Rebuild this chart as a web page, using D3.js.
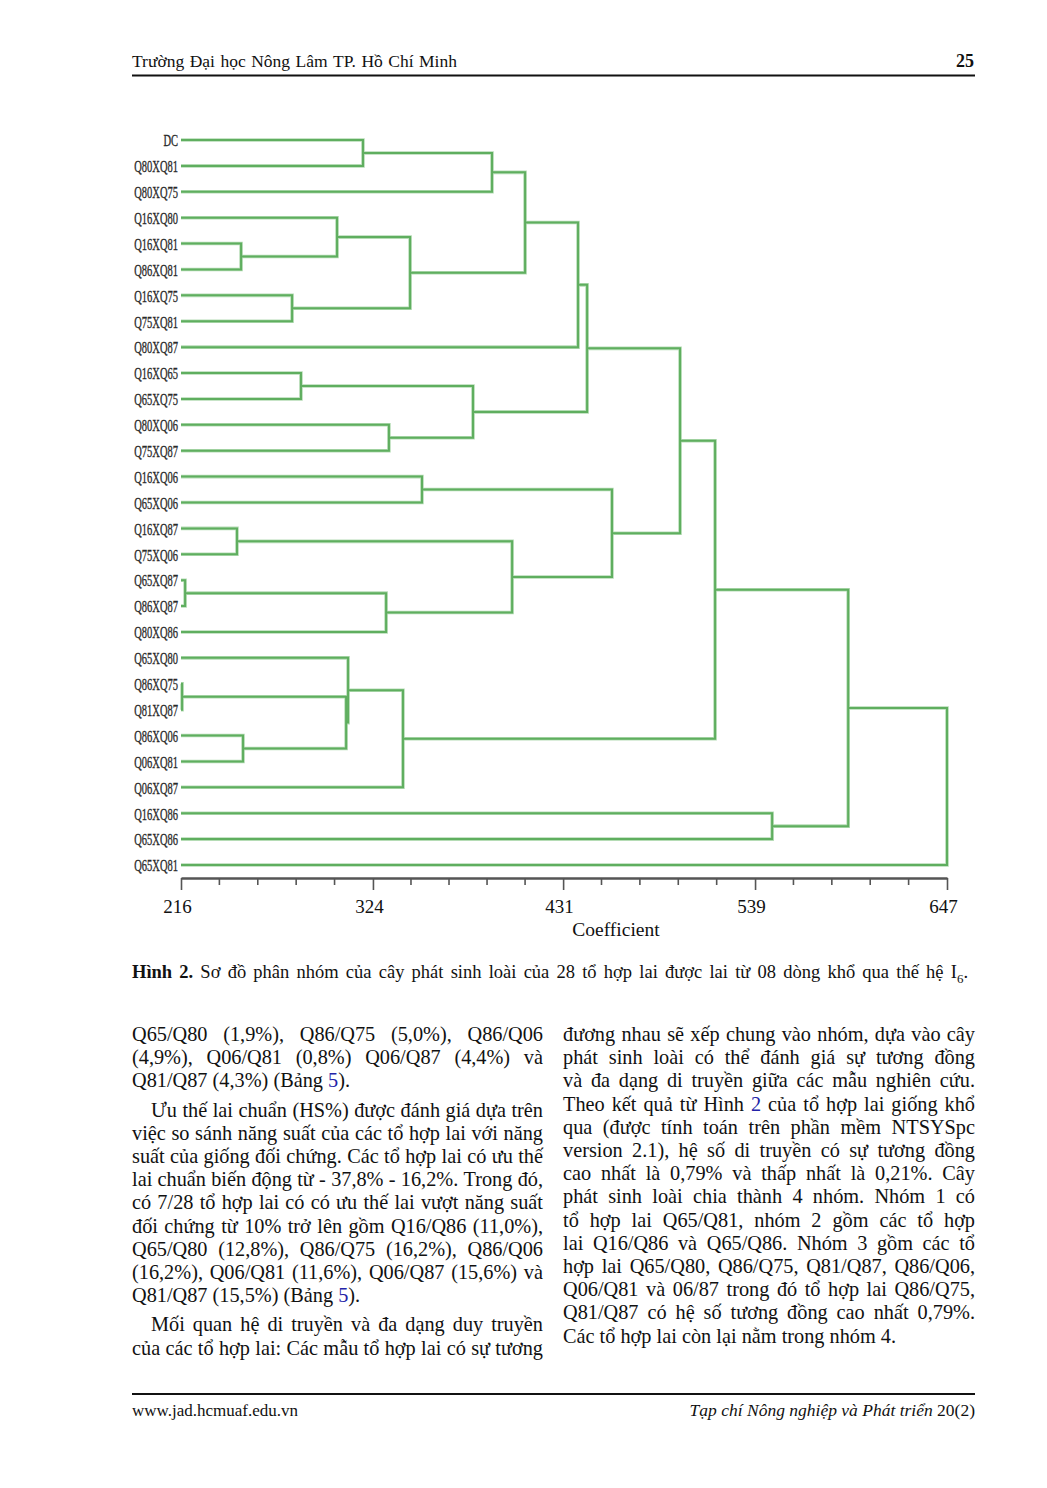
<!DOCTYPE html>
<html><head><meta charset="utf-8">
<script src="https://cdn.jsdelivr.net/npm/d3@7"></script>
<style>body{margin:0;background:#fff}svg{display:block}</style>
</head><body>
<script>
// ---------- DATA ----------
const leaves = ["DC","Q80XQ81","Q80XQ75","Q16XQ80","Q16XQ81","Q86XQ81","Q16XQ75","Q75XQ81","Q80XQ87",
  "Q16XQ65","Q65XQ75","Q80XQ06","Q75XQ87","Q16XQ06","Q65XQ06","Q16XQ87","Q75XQ06","Q65XQ87","Q86XQ87",
  "Q80XQ86","Q65XQ80","Q86XQ75","Q81XQ87","Q86XQ06","Q06XQ81","Q06XQ87","Q16XQ86","Q65XQ86","Q65XQ81"];
// merges: [left child, right child, coefficient]; numbers refer to earlier merges
const mergeLeft  = ["DC",0,"Q16XQ81","Q16XQ80","Q16XQ75",3,1,6,"Q16XQ65","Q80XQ06",8,7,"Q16XQ06","Q16XQ87","Q65XQ87",14,13,12,11,"Q86XQ75","Q86XQ06",19,"Q65XQ80",22,18,"Q16XQ86",24,26];
const mergeRight = ["Q80XQ81","Q80XQ75","Q86XQ81",2,"Q75XQ81",4,5,"Q80XQ87","Q65XQ75","Q75XQ87",9,10,"Q65XQ06","Q75XQ06","Q86XQ87","Q80XQ86",15,16,17,"Q81XQ87","Q06XQ81",20,21,"Q06XQ87",23,"Q65XQ86",25,"Q65XQ81"];
const mergeHeight = [318.4,391.0,249.8,303.8,278.5,344.9,409.6,439.4,283.5,333.0,380.3,444.5,351.6,247.5,218.3,331.4,402.3,458.5,496.8,216.6,250.9,308.9,310.0,340.9,516.5,548.6,591.4,647.0];
const axisDomain = [216, 647];
const tickValues = [216, 324, 431, 539, 647];
const tickLabels = ["216","324","431","539","647"];
const axisTitle = "Coefficient";

const headerLeft = "Trường Đại học Nông Lâm TP. Hồ Chí Minh";
const pageNumber = "25";
const caption = "*Hình* *2.* Sơ đồ phân nhóm của cây phát sinh loài của 28 tổ hợp lai được lai từ 08 dòng khổ qua thế hệ I~6~.";
const leftPara1 = [
  "Q65/Q80 (1,9%), Q86/Q75 (5,0%), Q86/Q06",
  "(4,9%), Q06/Q81 (0,8%) Q06/Q87 (4,4%) và",
  "Q81/Q87 (4,3%) (Bảng {5})."];
const leftPara2 = [
  "Ưu thế lai chuẩn (HS%) được đánh giá dựa trên",
  "việc so sánh năng suất của các tổ hợp lai với năng",
  "suất của giống đối chứng. Các tổ hợp lai có ưu thế",
  "lai chuẩn biến động từ - 37,8% - 16,2%. Trong đó,",
  "có 7/28 tổ hợp lai có có ưu thế lai vượt năng suất",
  "đối chứng từ 10% trở lên gồm Q16/Q86 (11,0%),",
  "Q65/Q80 (12,8%), Q86/Q75 (16,2%), Q86/Q06",
  "(16,2%), Q06/Q81 (11,6%), Q06/Q87 (15,6%) và",
  "Q81/Q87 (15,5%) (Bảng {5})."];
const leftPara3 = [
  "Mối quan hệ di truyền và đa dạng duy truyền",
  "của các tổ hợp lai: Các mẫu tổ hợp lai có sự tương"];
const rightPara = [
  "đương nhau sẽ xếp chung vào nhóm, dựa vào cây",
  "phát sinh loài có thể đánh giá sự tương đồng",
  "và đa dạng di truyền giữa các mẫu nghiên cứu.",
  "Theo kết quả từ Hình {2} của tổ hợp lai giống khổ",
  "qua (được tính toán trên phần mềm NTSYSpc",
  "version 2.1), hệ số di truyền có sự tương đồng",
  "cao nhất là 0,79% và thấp nhất là 0,21%. Cây",
  "phát sinh loài chia thành 4 nhóm. Nhóm 1 có",
  "tổ hợp lai Q65/Q81, nhóm 2 gồm các tổ hợp",
  "lai Q16/Q86 và Q65/Q86. Nhóm 3 gồm các tổ",
  "hợp lai Q65/Q80, Q86/Q75, Q81/Q87, Q86/Q06,",
  "Q06/Q81 và 06/87 trong đó tổ hợp lai Q86/Q75,",
  "Q81/Q87 có hệ số tương đồng cao nhất 0,79%.",
  "Các tổ hợp lai còn lại nằm trong nhóm 4."];
const footerLeft = "www.jad.hcmuaf.edu.vn";
const footerRight = "_Tạp_ _chí_ _Nông_ _nghiệp_ _và_ _Phát_ _triển_ 20(2)";

// ---------- DRAW ----------
const W = 1047, H = 1488;
const SERIF = "'Liberation Serif','Times New Roman',serif";
const svg = d3.select("body").append("svg").attr("width", W).attr("height", H);
svg.append("rect").attr("width", W).attr("height", H).attr("fill", "#fff");

function addParts(t, word, size) {
  const parts = word.split(/(\*[^*]+\*|\{[^}]+\}|~[^~]+~|_[^_]+_)/).filter(s => s.length);
  let shifted = false;
  parts.forEach(p => {
    const ts = t.append("tspan");
    if (shifted) { ts.attr("dy", -size * 0.25); shifted = false; }
    if (p[0] === "*") ts.text(p.slice(1, -1)).attr("font-weight", "bold");
    else if (p[0] === "{") ts.text(p.slice(1, -1)).attr("fill", "#2323a8");
    else if (p[0] === "_") ts.text(p.slice(1, -1)).attr("font-style", "italic");
    else if (p[0] === "~") { ts.text(p.slice(1, -1)).attr("font-size", size * 0.7).attr("dy", size * 0.25); shifted = true; }
    else ts.text(p);
  });
}

function drawLine(g, str, x0, x1, y, size, mode) {
  const words = str.split(" ").filter(Boolean);
  const ts = words.map(w => {
    const t = g.append("text").attr("y", y).attr("font-size", size)
      .attr("font-family", SERIF).attr("fill", "#111");
    addParts(t, w, size);
    return t;
  });
  let widths = ts.map(t => t.node().getComputedTextLength());
  let sum = d3.sum(widths);
  const n = words.length;
  let gap = size * 0.25;
  if (mode === "justify" && n > 1) {
    gap = (x1 - x0 - sum) / (n - 1);
    const minGap = size * 0.17;
    if (gap < minGap) {
      const s = (x1 - x0 - minGap * (n - 1)) / sum;
      widths = widths.map((w, i) => {
        ts[i].attr("textLength", w * s).attr("lengthAdjust", "spacingAndGlyphs");
        return w * s;
      });
      gap = minGap;
    }
  }
  sum = d3.sum(widths);
  let x = mode === "right" ? x1 - (sum + gap * (n - 1)) : x0;
  ts.forEach((t, i) => { t.attr("x", x); x += widths[i] + gap; });
}

// Header
drawLine(svg, headerLeft, 132, 457, 67, 17.5, "justify");
svg.append("text").attr("x", 974).attr("y", 67).attr("text-anchor", "end")
  .attr("font-family", SERIF).attr("font-size", 18).attr("font-weight", "bold").attr("fill", "#111").text(pageNumber);
svg.append("line").attr("x1", 132).attr("x2", 975).attr("y1", 75.5).attr("y2", 75.5)
  .attr("stroke", "#111").attr("stroke-width", 1.8);

// Dendrogram
const xs = d3.scaleLinear().domain(axisDomain).range([181, 947]);
const ys = d3.scalePoint().domain(leaves).range([140, 865]);
const nodes = [];
const pos = r => (typeof r === "string" ? { x: xs(axisDomain[0]), y: ys(r) } : nodes[r]);
mergeHeight.forEach((h, i) => {
  const A = pos(mergeLeft[i]), B = pos(mergeRight[i]);
  const X = xs(h);
  nodes.push({ x: X, y: (A.y + B.y) / 2, path: `M${A.x},${A.y}H${X}V${B.y}H${B.x}` });
});
const gd = svg.append("g");
gd.selectAll("path.halo").data(nodes).join("path").attr("class", "halo")
  .attr("d", d => d.path).attr("fill", "none").attr("stroke", "#b5dcb5").attr("stroke-width", 3.6);
gd.selectAll("path.br").data(nodes).join("path").attr("class", "br")
  .attr("d", d => d.path).attr("fill", "none").attr("stroke", "#5fae5f").attr("stroke-width", 2);

svg.append("g").selectAll("text").data(leaves).join("text")
  .attr("transform", d => `translate(178,${ys(d)}) scale(0.6,1)`)
  .attr("dy", "0.36em").attr("text-anchor", "end")
  .attr("font-family", SERIF).attr("font-size", 17.5).attr("fill", "#2a2a2a")
  .attr("stroke", "#2a2a2a").attr("stroke-width", 0.35).text(d => d);

// Axis
const axis = d3.axisBottom(xs).tickValues(tickValues).tickFormat((d, i) => tickLabels[i])
  .tickSize(12).tickSizeOuter(0);
const ga = svg.append("g").attr("transform", "translate(0,878)").call(axis);
ga.select(".domain").attr("stroke", "#555").attr("stroke-width", 2.5);
ga.selectAll(".tick line").attr("stroke", "#555").attr("stroke-width", 1.6);
ga.selectAll(".tick text").attr("font-family", SERIF).attr("font-size", 19).attr("fill", "#111")
  .attr("y", 35).attr("dy", 0).attr("dx", -4);
const minor = [];
for (let i = 0; i < tickValues.length - 1; i++)
  for (let k = 1; k < 5; k++) minor.push(tickValues[i] + (tickValues[i + 1] - tickValues[i]) * k / 5);
ga.selectAll("line.minor").data(minor).join("line").attr("class", "minor")
  .attr("x1", d => xs(d)).attr("x2", d => xs(d)).attr("y1", 0).attr("y2", 7)
  .attr("stroke", "#555").attr("stroke-width", 1.6);
svg.append("text").attr("x", 616).attr("y", 936).attr("text-anchor", "middle")
  .attr("font-family", SERIF).attr("font-size", 19.5).attr("fill", "#111").text(axisTitle);

// Caption
drawLine(svg, caption, 132, 968, 978, 18.5, "justify");

// Body columns
const LH = 23.2, PS = 6, FS = 20.3;
let yb = 1041;
leftPara1.forEach((l, i) => drawLine(svg, l, 132, 543, yb + i * LH, FS, i === leftPara1.length - 1 ? "left" : "justify"));
yb += leftPara1.length * LH + PS;
leftPara2.forEach((l, i) => drawLine(svg, l, i === 0 ? 151 : 132, 543, yb + i * LH, FS, i === leftPara2.length - 1 ? "left" : "justify"));
yb += leftPara2.length * LH + PS;
leftPara3.forEach((l, i) => drawLine(svg, l, i === 0 ? 151 : 132, 543, yb + i * LH, FS, "justify"));
rightPara.forEach((l, i) => drawLine(svg, l, 563, 975, 1041 + i * LH, FS, i === rightPara.length - 1 ? "left" : "justify"));

// Footer
svg.append("line").attr("x1", 132).attr("x2", 975).attr("y1", 1394).attr("y2", 1394)
  .attr("stroke", "#111").attr("stroke-width", 1.8);
drawLine(svg, footerLeft, 132, 303, 1416, 17, "left");
drawLine(svg, footerRight, 680, 975, 1416, 17.5, "right");
</script>
</body></html>
